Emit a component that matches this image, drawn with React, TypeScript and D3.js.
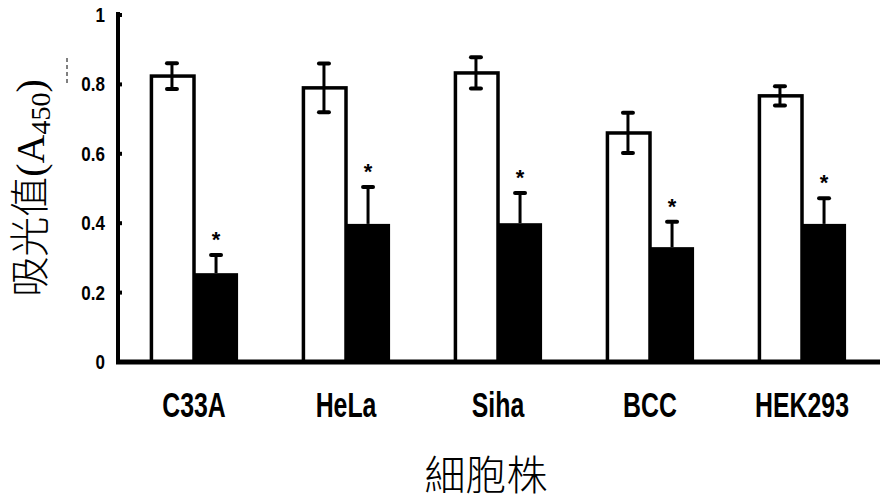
import React from 'react';
import * as d3 from 'd3';

const cells = ['C33A', 'HeLa', 'Siha', 'BCC', 'HEK293'];
const control = [0.824, 0.79, 0.833, 0.66, 0.767];
const controlErr = [0.037, 0.07, 0.045, 0.058, 0.028];
const treated = [0.256, 0.398, 0.40, 0.331, 0.398];
const treatedErr = [0.052, 0.106, 0.087, 0.073, 0.074];
const yTicks = [0, 0.2, 0.4, 0.6, 0.8, 1];

const W = 880;
const H = 502;
const sans = "'Liberation Sans', Arial, sans-serif";

export default function App() {
  const x = d3.scaleBand<string>().domain(cells).range([118, 878]).paddingInner(0.42).paddingOuter(0.21);
  const y = d3.scaleLinear().domain([0, 1]).range([362, 15]);
  const bw = x.bandwidth() / 2;
  const tickFmt = (d: number) => (d === 0 || d === 1 ? String(d) : d.toFixed(1));

  return (
    <svg width={W} height={H} style={{ position: 'absolute', left: 0, top: 0, background: '#fff' }}>
      <rect width={W} height={H} fill="#fff" />
      {/* bars */}
      {cells.map((c, i) => {
        const x0 = x(c)!;
        const cx0 = x0 + bw / 2;
        const cx1 = x0 + bw * 1.5;
        const errTop0 = y(control[i] + controlErr[i]);
        const errBot0 = y(control[i] - controlErr[i]);
        const errTop1 = y(treated[i] + treatedErr[i]);
        return (
          <g key={c}>
            <rect x={x0 + 1.5} y={y(control[i])} width={bw - 1.5} height={y(0) - y(control[i])}
              fill="#fff" stroke="#000" strokeWidth={3.5} />
            <rect x={x0 + bw} y={y(treated[i])} width={bw} height={y(0) - y(treated[i])} fill="#000" />
            <line x1={cx0} x2={cx0} y1={errTop0} y2={errBot0} stroke="#000" strokeWidth={3} />
            <line x1={cx0 - 5} x2={cx0 + 5} y1={errTop0} y2={errTop0} stroke="#000" strokeWidth={4} strokeLinecap="round" />
            <line x1={cx0 - 5} x2={cx0 + 5} y1={errBot0} y2={errBot0} stroke="#000" strokeWidth={4} strokeLinecap="round" />
            <line x1={cx1} x2={cx1} y1={errTop1} y2={y(treated[i])} stroke="#000" strokeWidth={3} />
            <line x1={cx1 - 5} x2={cx1 + 5} y1={errTop1} y2={errTop1} stroke="#000" strokeWidth={4} strokeLinecap="round" />
            <text x={cx1} y={errTop1 - 8} textAnchor="middle" fontFamily={sans}
              fontWeight="bold" fontSize={22}>*</text>
            <g transform={`translate(${x0 + bw},417) scale(0.71,1)`}>
              <text textAnchor="middle" fontFamily={sans} fontWeight="bold" fontSize={35}>{c}</text>
            </g>
          </g>
        );
      })}
      {/* axes */}
      <line x1={118} x2={118} y1={12} y2={364} stroke="#000" strokeWidth={4} />
      <line x1={116} x2={880} y1={362} y2={362} stroke="#000" strokeWidth={5} />
      {yTicks.map(t => (
        <g key={t}>
          <line x1={118} x2={122} y1={y(t)} y2={y(t)} stroke="#000" strokeWidth={4} />
          <g transform={`translate(105,${y(t) + 7}) scale(0.85,1)`}>
            <text textAnchor="end" fontFamily={sans} fontWeight="bold" fontSize={20}>{tickFmt(t)}</text>
          </g>
        </g>
      ))}
      <line x1={67} x2={67} y1={58} y2={85} stroke="#000" strokeWidth={1} strokeDasharray="4,3" />
      {/* y label */}
      <text transform="translate(44,188) rotate(-90)" textAnchor="middle" fontSize={40}>
        <tspan fontFamily="'Noto Sans CJK TC', sans-serif" fontWeight={300}>吸光值</tspan>
        <tspan fontFamily="'Liberation Serif', serif">(A</tspan>
        <tspan fontFamily="'Liberation Serif', serif" fontSize={28} dy={6}>450</tspan>
        <tspan fontFamily="'Liberation Serif', serif" dy={-6}>)</tspan>
      </text>
      {/* x label */}
      <text x={486} y={490} textAnchor="middle" fontFamily="'Noto Sans CJK TC', sans-serif" fontWeight={300}
        fontSize={41}>細胞株</text>
    </svg>
  );
}
